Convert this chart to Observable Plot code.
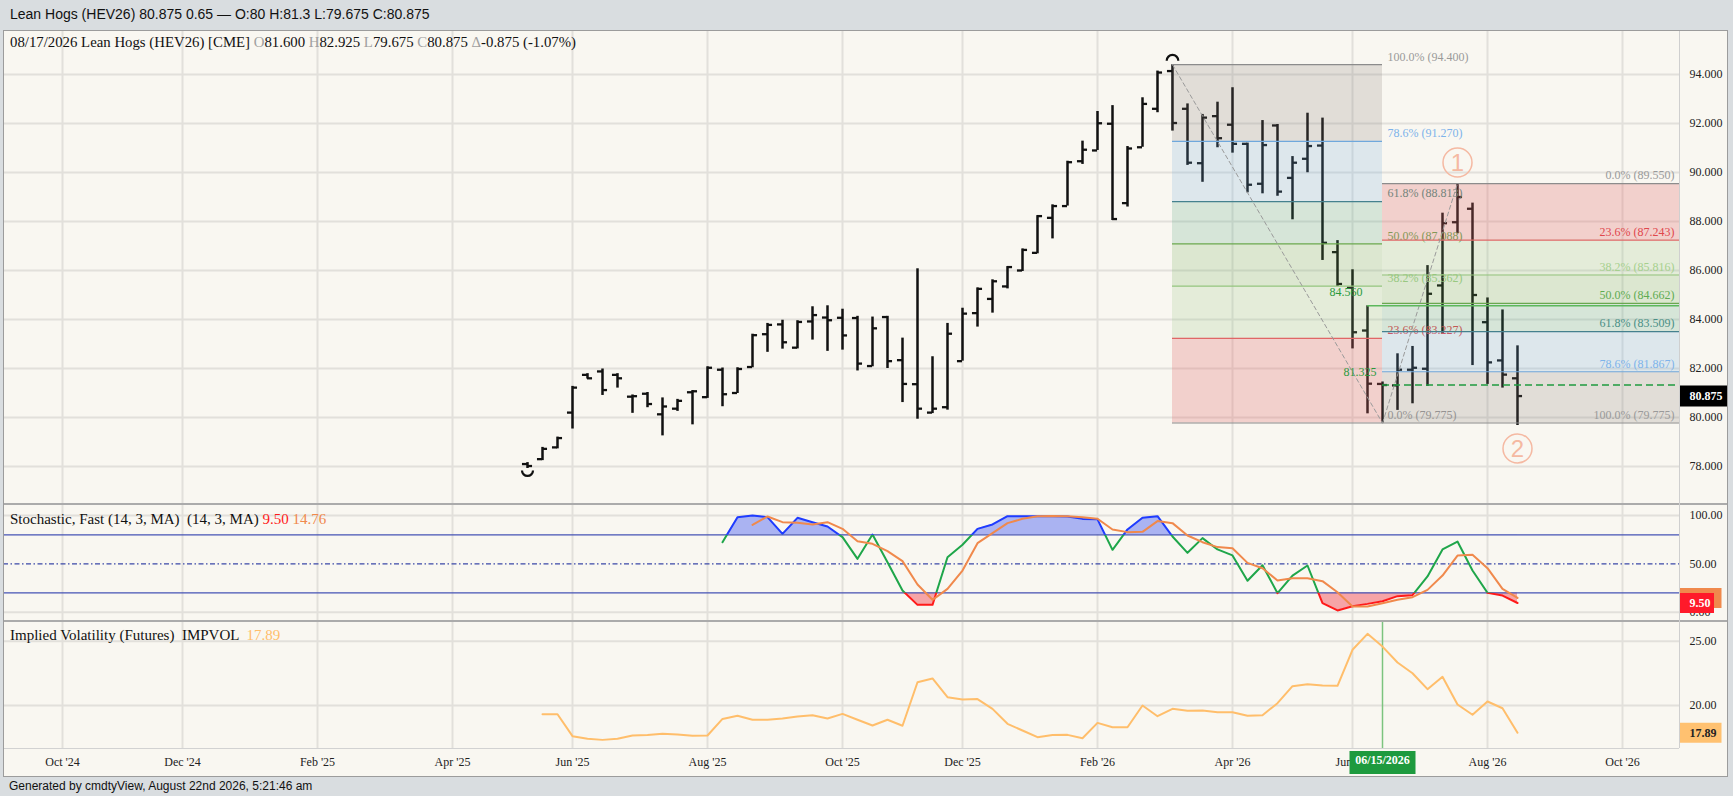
<!DOCTYPE html>
<html>
<head>
<meta charset="utf-8">
<script src="https://cdn.jsdelivr.net/npm/d3@7"></script>
<script src="https://cdn.jsdelivr.net/npm/@observablehq/plot@0.6"></script>
<style>
  html, body { margin:0; padding:0; }
  body { width:1733px; height:796px; position:relative; overflow:hidden; background:#d9dde0; font-family:"Liberation Serif","Times New Roman",serif; }
  .abs { position:absolute; }
  #header { left:0; top:0; width:1733px; height:30px; font-family:"Liberation Sans",Arial,sans-serif; font-size:14px; line-height:29px; padding-left:10px; box-sizing:border-box; color:#111; }
  #frame { left:3px; top:30px; width:1724px; height:746px; background:#f9f7f1; }
  #footer { left:0; top:777px; width:1733px; height:19px; font-family:"Liberation Sans",Arial,sans-serif; font-size:12px; line-height:19px; padding-left:9px; box-sizing:border-box; color:#111; }
  .legend { left:10px; white-space:pre; color:#111; line-height:18px; }
  .g { color:#a0a0a0; }
  .panel svg { display:block; }
</style>
</head>
<body>
<div id="header" class="abs">Lean Hogs (HEV26) 80.875 0.65 — O:80 H:81.3 L:79.675 C:80.875</div>
<div id="frame" class="abs"></div>
<div id="pricePanel" class="abs panel" style="left:3px;top:30px;"></div>
<div class="abs" style="left:3px;top:503px;width:1724px;height:2px;background:#ababab;"></div>
<div id="stochPanel" class="abs panel" style="left:3px;top:505px;"></div>
<div class="abs" style="left:3px;top:620px;width:1724px;height:2px;background:#ababab;"></div>
<div id="ivPanel" class="abs panel" style="left:3px;top:622px;"></div>
<!-- frame borders -->
<div class="abs" style="left:3px;top:30px;width:1px;height:747px;background:#9c9c9c;"></div>
<div class="abs" style="left:1727px;top:30px;width:1px;height:747px;background:#9c9c9c;"></div>
<div class="abs" style="left:3px;top:30px;width:1725px;height:1px;background:#9c9c9c;"></div>
<div class="abs" style="left:3px;top:776px;width:1725px;height:1px;background:#9c9c9c;"></div>
<div class="abs" style="left:1679px;top:31px;width:1px;height:717px;background:#cfcfcf;"></div>
<div id="leg1" class="abs legend" style="top:33px;font-size:14.8px;">08/17/2026 Lean Hogs (HEV26) [CME] <span class="g">O</span>81.600 <span class="g">H</span>82.925 <span class="g">L</span>79.675 <span class="g">C</span>80.875 <span class="g">Δ</span>-0.875 (-1.07%)</div>
<div id="leg2" class="abs legend" style="top:510px;font-size:15px;">Stochastic, Fast (14, 3, MA)  (14, 3, MA) <span style="color:#ff1a1a">9.50</span> <span style="color:#f0894c">14.76</span></div>
<div id="leg3" class="abs legend" style="top:626px;font-size:15px;">Implied Volatility (Futures)  IMPVOL  <span style="color:#ffbe6b">17.89</span></div>
<div id="footer" class="abs">Generated by cmdtyView, August 22nd 2026, 5:21:46 am</div>

<script>
// ---------------- DATA ----------------
// weekly bars (Monday of each week) from 2025-05-12 to 2026-08-17
const weeks = d3.utcMonday.range(new Date(Date.UTC(2025,4,12)), new Date(Date.UTC(2026,7,18)));

const opens  = [78.10,78.30,78.78,80.20,81.74,81.88,81.74,80.85,80.97,80.13,80.36,81.03,80.83,81.95,81.00,82.06,83.40,83.80,82.85,83.92,84.08,84.07,84.06,82.10,84.10,82.34,81.36,80.20,80.42,82.30,84.26,84.84,85.35,86.00,86.72,88.15,88.63,90.46,90.90,91.99,88.75,91.03,92.60,94.14,92.60,90.38,92.30,91.95,91.17,89.54,91.92,89.78,90.56,91.10,86.75,85.30,83.55,81.37,81.31,81.95,81.99,85.39,87.97,88.52,83.89,82.33,81.600];
const highs  = [78.16,78.78,79.20,81.27,81.79,81.98,81.79,80.92,81.02,80.80,80.74,81.10,82.07,82.02,82.03,83.40,83.84,83.97,83.95,84.52,84.56,84.42,84.13,84.10,84.13,83.24,86.07,82.48,83.84,84.46,85.29,85.62,86.16,86.88,88.24,88.68,90.46,91.28,92.49,92.73,91.06,93.05,94.14,94.40,92.80,92.37,92.87,93.46,91.20,92.12,91.96,90.65,92.42,92.22,87.22,86.03,84.56,81.45,82.60,82.90,86.20,88.34,89.55,88.75,84.88,84.39,82.925];
const lows   = [77.92,78.24,78.72,79.53,81.57,80.90,81.20,80.17,80.40,79.25,80.25,79.70,80.78,80.44,80.98,82.03,82.66,82.79,82.80,83.16,82.70,82.75,81.90,82.07,82.00,80.61,79.93,80.16,80.30,82.30,83.69,84.26,85.25,85.96,86.68,87.29,88.63,90.33,90.90,88.04,88.59,91.03,92.44,91.69,90.29,89.60,91.01,90.79,89.17,89.13,89.03,88.07,89.99,86.41,85.35,82.80,80.15,79.775,80.29,80.56,81.27,83.41,87.50,82.12,81.35,81.20,79.675];
const closes = [78.02,78.72,79.16,81.22,81.60,81.12,81.60,80.87,80.55,80.45,80.68,81.07,82.03,80.95,81.98,83.36,83.78,83.07,83.90,84.18,83.97,83.35,82.20,83.64,82.30,81.37,80.36,80.36,83.42,84.24,85.25,85.56,86.14,86.84,88.22,88.63,90.42,90.93,92.01,88.10,90.98,92.80,94.08,92.02,90.40,92.24,91.40,91.17,89.50,91.12,89.22,90.40,91.08,87.13,85.45,83.48,81.38,81.325,81.95,82.03,85.05,87.93,89.00,85.00,82.25,81.75,80.875];

// Stochastic fast %K (starts week index 13: 2025-08-11) and %D (starts index 15: 2025-08-25)
const stochK = [72.4,98.3,100,98.3,81,97.6,93.1,88.6,77.6,55.2,80.3,51.7,22.4,7.6,7.6,56.9,69.7,86.2,90.7,99.3,99.3,99.3,99.3,99.0,96.5,96.0,64.5,85.6,97.6,99.3,78.3,61.4,76.6,64.9,58.7,32.5,48.5,19.7,37.9,48.3,9.3,1.8,6.2,8.6,11.4,16.6,17.6,37.0,64.9,73.1,43.1,20.0,17.2,9.50];
const stochD = [90.3,99.0,93.1,92.4,90.7,93.1,86.2,73.4,70.7,63.1,52.8,28.6,12.8,24.1,43.1,71.4,81.7,92.1,96.6,99.3,99.5,99.3,98.3,96.6,85.5,82.8,83.1,94.2,92.1,79.3,72.4,67.3,66.2,51.0,45.5,32.8,35.2,35.2,32.1,20.7,5.9,5.9,9.3,12.8,15.5,23.1,37.9,58.6,59.3,45.5,24.2,14.76];

// Implied volatility (starts week index 1: 2025-05-19)
const impVol = [19.32,19.32,17.62,17.41,17.33,17.41,17.67,17.70,17.80,17.75,17.65,17.67,18.96,19.20,18.89,18.89,19.00,19.15,19.25,18.99,19.35,18.89,18.45,18.89,18.43,21.81,22.10,20.65,20.47,20.50,19.74,18.58,18.06,17.54,17.70,17.72,17.46,18.65,18.31,18.31,20.00,19.17,19.74,19.59,19.61,19.48,19.48,19.20,19.25,20.18,21.50,21.66,21.55,21.53,24.33,25.57,24.58,23.34,22.51,21.27,22.23,20.08,19.28,20.31,19.79,17.89];

// Fibonacci retracements
const fib1Pct   = [100, 78.6, 61.8, 50, 38.2, 23.6, 0];
const fib1Price = [94.4, 91.27, 88.813, 87.088, 85.362, 83.227, 79.775];
const fib1Start = new Date("2026-03-09"), fib1End = new Date("2026-06-15");
const fib2Pct   = [0, 23.6, 38.2, 50, 61.8, 78.6, 100];
const fib2Price = [89.55, 87.243, 85.816, 84.662, 83.509, 81.867, 79.775];
const fib2Start = new Date("2026-06-15"), fib2HighDate = new Date("2026-07-20");

// annotations
const hiLevel = {date: new Date("2026-06-08"), price: 84.56, label: "84.560"};
const loLevel = {date: new Date("2026-06-15"), price: 81.325, label: "81.325"};
const pivotHigh = {date: new Date("2026-03-09"), price: 94.4};
const pivotLow  = {date: new Date("2025-05-12"), price: 77.92};
const wave1 = {date: new Date("2026-07-20"), price: 89.55, n: "1"};
const wave2 = {date: new Date("2026-08-17"), price: 79.675, n: "2"};
const crossDate = new Date("2026-06-15");
const lastClose = 80.875, lastK = 9.50, lastD = 14.76, lastIV = 17.89;

// axis ticks
const tickDates = ["2024-10-07","2024-12-02","2025-02-03","2025-04-07","2025-06-02","2025-08-04","2025-10-06","2025-12-01","2026-02-02","2026-04-06","2026-06-01","2026-08-03","2026-10-05"].map(s => new Date(s));
const tickLabels = ["Oct '24","Dec '24","Feb '25","Apr '25","Jun '25","Aug '25","Oct '25","Dec '25","Feb '26","Apr '26","Jun '26","Aug '26","Oct '26"];
const priceTicks = [78, 80, 82, 84, 86, 88, 90, 92, 94];
const stochTicks = [100, 50, 0];
const ivTicks = [25, 20];

// ---------------- LAYOUT ----------------
const DAY = 864e5;
const W = 1724, MR = 48;
const anchorDate = new Date("2024-10-07");   // sits 59px right of plot's left edge
const pxPerDay = 15 / 7;
const dLeft  = new Date(+anchorDate - 59 / pxPerDay * DAY);
const dRight = new Date(+anchorDate + 1617 / pxPerDay * DAY);
const xScale = {type: "utc", domain: [dLeft, dRight], axis: null};
const priceDomain = [76.49, 95.796];
const stochDomain = [-8.58, 110.34];
const ivDomain = [16.66, 26.45];
const gridColor = "#e2e0db";
const serif = "Liberation Serif";
const baseStyle = {background: "transparent", overflow: "visible", fontFamily: serif};

const rectSym = (w, h) => ({draw(ctx) { ctx.rect(-w / 2, -h / 2, w, h); }});
const arcUp = {draw(ctx, size) { const r = Math.sqrt(size / Math.PI); ctx.moveTo(-r, 0); ctx.arc(0, 0, r, Math.PI, 2 * Math.PI); }};
const arcDown = {draw(ctx, size) { const r = Math.sqrt(size / Math.PI); ctx.moveTo(r, 0); ctx.arc(0, 0, r, 0, Math.PI); }};

const bars = weeks.map((d, i) => ({date: d, open: opens[i], high: highs[i], low: lows[i], close: closes[i]}));
const kData = stochK.map((v, i) => ({date: weeks[i + 13], k: v}));
const dData = stochD.map((v, i) => ({date: weeks[i + 15], d: v}));
const ivData = impVol.map((v, i) => ({date: weeks[i + 1], iv: v}));
const tickOff = 2.35 * DAY;

// ---------------- FIB helper ----------------
const lineColor = {0: "#8c8c8c", 23.6: "#e06666", 38.2: "#93c47d", 50: "#6aa84f", 61.8: "#45818e", 78.6: "#6fa8dc", 100: "#8c8c8c"};
const labelColor = {0: "#9a9a9a", 23.6: "#e0474c", 38.2: "#a6d08e", 50: "#5fab52", 61.8: "#4a8f86", 78.6: "#7eb3ea", 100: "#9a9a9a"};
const bandFill = {23.6: "rgba(224,102,102,0.27)", 38.2: "rgba(147,196,125,0.2)", 50: "rgba(106,168,79,0.2)", 61.8: "rgba(76,160,120,0.2)", 78.6: "rgba(111,168,220,0.2)", 100: "rgba(128,120,115,0.2)"};

function fibMarks(pcts, prices, xStart, xEnd, anchor) {
  const marks = [];
  for (let i = 0; i < pcts.length - 1; i++) {
    const key = Math.max(pcts[i], pcts[i + 1]);
    marks.push(Plot.rect([{x1: xStart, x2: xEnd, y1: prices[i], y2: prices[i + 1]}], {x1: "x1", x2: "x2", y1: "y1", y2: "y2", fill: bandFill[key]}));
  }
  pcts.forEach((p, i) => {
    marks.push(Plot.ruleY([{x1: xStart, x2: xEnd, y: prices[i]}], {x1: "x1", x2: "x2", y: "y", stroke: lineColor[p], strokeWidth: 1.2}));
  });
  pcts.forEach((p, i) => {
    const t = `${p.toFixed(1)}% (${prices[i].toFixed(3)})`;
    marks.push(Plot.text([{x: xEnd, y: prices[i], t}], {x: "x", y: "y", text: "t", dx: anchor === "start" ? 5 : -5, dy: -8, textAnchor: anchor, fill: labelColor[p], fontSize: 12, fontFamily: serif}));
  });
  return marks;
}

// ---------------- PRICE PANEL ----------------
const waveColor = "#f5b9a2";
const pricePlot = Plot.plot({
  width: W, height: 473, marginLeft: 0, marginRight: MR, marginTop: 0, marginBottom: 0,
  style: baseStyle,
  x: xScale,
  y: {domain: priceDomain, axis: null},
  marks: [
    Plot.ruleX(tickDates, {x: d => d, stroke: gridColor, strokeWidth: 2}),
    Plot.ruleY(priceTicks, {y: d => d, stroke: gridColor, strokeWidth: 2}),
    // OHLC bars
    Plot.ruleX(bars, {x: "date", y1: "low", y2: "high", stroke: "#111", strokeWidth: 2.5}),
    Plot.ruleY(bars, {y: "open", x1: d => new Date(+d.date - tickOff), x2: "date", stroke: "#111", strokeWidth: 2.3}),
    Plot.ruleY(bars, {y: "close", x1: "date", x2: d => new Date(+d.date + tickOff), stroke: "#111", strokeWidth: 2.3}),
    // pivot arcs
    Plot.dot([pivotHigh], {x: "date", y: "price", dy: -4, r: 5.8, symbol: arcUp, fill: "none", stroke: "#111", strokeWidth: 2.2}),
    Plot.dot([pivotLow], {x: "date", y: "price", dy: 2, r: 5.5, symbol: arcDown, fill: "none", stroke: "#111", strokeWidth: 2.2}),
    // fib 1 and fib 2
    ...fibMarks(fib1Pct, fib1Price, fib1Start, fib1End, "start"),
    ...fibMarks(fib2Pct, fib2Price, fib2Start, dRight, "end"),
    // dashed diagonals
    Plot.line([{d: fib1Start, p: fib1Price[0]}, {d: fib1End, p: fib1Price[6]}], {x: "d", y: "p", stroke: "#9a9a9a", strokeWidth: 1, strokeDasharray: "4,3"}),
    Plot.line([{d: fib2Start, p: fib2Price[6]}, {d: fib2HighDate, p: fib2Price[0]}], {x: "d", y: "p", stroke: "#9a9a9a", strokeWidth: 1, strokeDasharray: "4,3"}),
    // green levels
    Plot.ruleY([hiLevel], {y: "price", x1: "date", x2: () => dRight, stroke: "#5cb85c", strokeWidth: 1.6}),
    Plot.text([hiLevel], {x: "date", y: "price", text: "label", dx: -5, dy: -14, textAnchor: "end", fill: "#2a9a3e", fontSize: 12, fontFamily: serif}),
    Plot.ruleY([loLevel], {y: "price", x1: "date", x2: () => dRight, stroke: "#1f9a40", strokeWidth: 1.5, strokeDasharray: "7,4"}),
    Plot.text([loLevel], {x: "date", y: "price", text: "label", dx: -6, dy: -13, textAnchor: "end", fill: "#2a9a3e", fontSize: 12, fontFamily: serif}),
    // wave count circles
    Plot.dot([wave1], {x: "date", y: "price", dy: -21, r: 14.5, fill: "none", stroke: waveColor, strokeWidth: 1.5}),
    Plot.text([wave1], {x: "date", y: "price", text: "n", dy: -20, fill: waveColor, fontSize: 24, fontFamily: "Liberation Sans"}),
    Plot.dot([wave2], {x: "date", y: "price", dy: 23, r: 14.5, fill: "none", stroke: waveColor, strokeWidth: 1.5}),
    Plot.text([wave2], {x: "date", y: "price", text: "n", dy: 24, fill: waveColor, fontSize: 24, fontFamily: "Liberation Sans"}),
    // right axis labels
    Plot.text(priceTicks, {x: () => dRight, y: d => d, text: d => d3.format(".3f")(d), dx: 10, textAnchor: "start", fill: "#222", fontSize: 12, fontFamily: serif}),
    // last price box
    Plot.dot([lastClose], {x: () => dRight, y: d => d, dx: 24, r: 5, symbol: rectSym(48, 21), fill: "#000", stroke: "none"}),
    Plot.text([lastClose], {x: () => dRight, y: d => d, text: d => d3.format(".3f")(d), dx: 10, textAnchor: "start", fill: "#fff", fontWeight: "bold", fontSize: 12, fontFamily: serif})
  ]
});
document.getElementById("pricePanel").appendChild(pricePlot);

// ---------------- STOCHASTIC PANEL ----------------
const SH = 115;
const colHiFill = "#aab3f2", colLoFill = "#f6a4a7", colKmid = "#1fa64a", colKhi = "#1f3cff", colKlo = "#ff1a1a";
const stochPlot = Plot.plot({
  width: W, height: SH, marginLeft: 0, marginRight: MR, marginTop: 0, marginBottom: 0,
  style: baseStyle,
  x: xScale,
  y: {domain: stochDomain, axis: null},
  marks: [
    Plot.ruleX(tickDates, {x: d => d, stroke: gridColor, strokeWidth: 2}),
    Plot.ruleY([100, 0], {y: d => d, stroke: gridColor, strokeWidth: 2}),
    Plot.areaY(kData, {x: "date", y1: () => 80, y2: "k", fill: colHiFill}),
    Plot.areaY(kData, {x: "date", y1: () => 20, y2: "k", fill: colLoFill}),
    Plot.ruleY([80, 20], {y: d => d, stroke: "#4453b5", strokeWidth: 1.3}),
    Plot.ruleY([50], {y: d => d, stroke: "#3b48a8", strokeWidth: 1.2, strokeDasharray: "5,2.5,1.5,2.5"}),
    Plot.line(kData, {x: "date", y: "k", stroke: colKmid, strokeWidth: 2}),
    Plot.line(kData, {x: "date", y: "k", stroke: colKhi, strokeWidth: 2}),
    Plot.line(kData, {x: "date", y: "k", stroke: colKlo, strokeWidth: 2}),
    Plot.line(dData, {x: "date", y: "d", stroke: "#f0894c", strokeWidth: 2}),
    Plot.text(stochTicks, {x: () => dRight, y: d => d, text: d => d3.format(".2f")(d), dx: 10, textAnchor: "start", fill: "#222", fontSize: 12, fontFamily: serif}),
    Plot.dot([lastD], {x: () => dRight, y: d => d, dx: 21, r: 5, symbol: rectSym(42, 20), fill: "#f0894c", stroke: "none"}),
    Plot.dot([lastK], {x: () => dRight, y: d => d, dx: 17, r: 5, symbol: rectSym(35, 20), fill: "#ff1a2a", stroke: "none"}),
    Plot.text([lastK], {x: () => dRight, y: d => d, text: d => d3.format(".2f")(d), dx: 10, textAnchor: "start", fill: "#fff", fontWeight: "bold", fontSize: 12, fontFamily: serif})
  ]
});
(function clipStoch() {
  const yPix = v => (stochDomain[1] - v) / (stochDomain[1] - stochDomain[0]) * SH;
  const y80 = yPix(80), y20 = yPix(20);
  const svg = d3.select(stochPlot);
  const defs = svg.insert("defs", ":first-child");
  defs.append("clipPath").attr("id", "clipHi").append("rect").attr("x", -10).attr("y", -50).attr("width", W + 20).attr("height", y80 + 50);
  defs.append("clipPath").attr("id", "clipMid").append("rect").attr("x", -10).attr("y", y80).attr("width", W + 20).attr("height", y20 - y80);
  defs.append("clipPath").attr("id", "clipLo").append("rect").attr("x", -10).attr("y", y20).attr("width", W + 20).attr("height", 200);
  const clipFor = (attr, col, id) => {
    svg.selectAll("g").filter(function() { return (this.getAttribute(attr) || "").toLowerCase() === col; }).attr("clip-path", `url(#${id})`);
  };
  clipFor("fill", colHiFill, "clipHi");
  clipFor("stroke", colKhi, "clipHi");
  clipFor("stroke", colKmid, "clipMid");
  clipFor("fill", colLoFill, "clipLo");
  clipFor("stroke", colKlo, "clipLo");
})();
document.getElementById("stochPanel").appendChild(stochPlot);

// ---------------- IMPLIED VOLATILITY PANEL ----------------
const ivPlot = Plot.plot({
  width: W, height: 154, marginLeft: 0, marginRight: MR, marginTop: 0, marginBottom: 28,
  style: baseStyle,
  x: xScale,
  y: {domain: ivDomain, axis: null},
  marks: [
    Plot.ruleX(tickDates, {x: d => d, stroke: gridColor, strokeWidth: 2}),
    Plot.ruleY(ivTicks, {y: d => d, stroke: gridColor, strokeWidth: 2}),
    Plot.ruleY([ivDomain[0]], {y: d => d, x1: () => dLeft, x2: () => dRight, stroke: "#d2d2d2", strokeWidth: 1}),
    Plot.ruleX([crossDate], {x: d => d, stroke: "#7cc47f", strokeWidth: 1.5}),
    Plot.line(ivData, {x: "date", y: "iv", stroke: "#ffbe6b", strokeWidth: 2}),
    Plot.text(ivTicks, {x: () => dRight, y: d => d, text: d => d3.format(".2f")(d), dx: 10, textAnchor: "start", fill: "#222", fontSize: 12, fontFamily: serif}),
    Plot.dot([lastIV], {x: () => dRight, y: d => d, dx: 21, r: 5, symbol: rectSym(42, 20), fill: "#ffc170", stroke: "none"}),
    Plot.text([lastIV], {x: () => dRight, y: d => d, text: d => d3.format(".2f")(d), dx: 10, textAnchor: "start", fill: "#222", fontWeight: "bold", fontSize: 12, fontFamily: serif}),
    // x axis labels
    Plot.text(tickDates, {x: d => d, frameAnchor: "bottom", dy: 17, text: (d, i) => tickLabels[i], fill: "#222", fontSize: 12, fontFamily: serif}),
    // crosshair date box
    Plot.dot([crossDate], {x: d => d, frameAnchor: "bottom", dy: 14, r: 5, symbol: rectSym(66, 23), fill: "#1e9a3e", stroke: "none"}),
    Plot.text([crossDate], {x: d => d, frameAnchor: "bottom", dy: 15, text: d => d3.utcFormat("%m/%d/%Y")(d), fill: "#fff", fontWeight: "bold", fontSize: 12, fontFamily: serif})
  ]
});
document.getElementById("ivPanel").appendChild(ivPlot);
</script>
</body>
</html>
